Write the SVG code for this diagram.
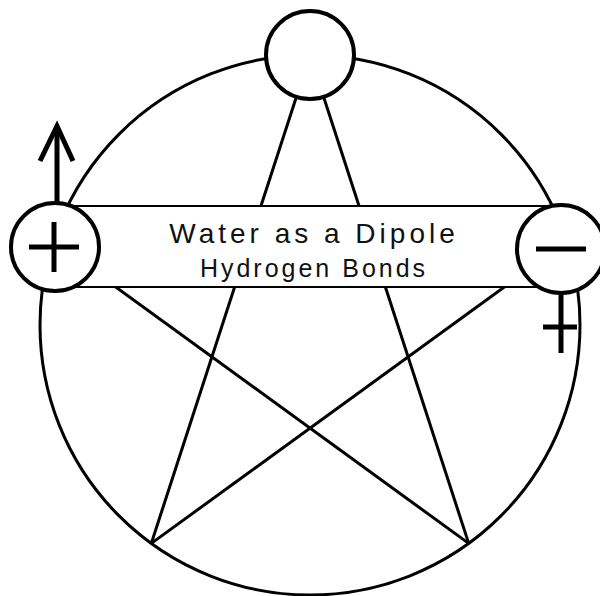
<svg xmlns="http://www.w3.org/2000/svg" width="600" height="596" viewBox="0 0 600 596">
<style>
.ln{stroke:#000;stroke-width:3;fill:none}
.node{stroke:#000;stroke-width:4;fill:#fff}
.sign{stroke:#000;stroke-width:5;fill:none}
.t{font-family:"Liberation Sans",Arial,sans-serif;fill:#111;text-anchor:middle}
</style>
<rect width="600" height="596" fill="#fff"/>
<g id="ring"><circle cx="310" cy="325" r="270" class="ln"/></g>
<g id="connectors">
<line x1="310" y1="55" x2="151.3" y2="543.4" class="ln"/>
<line x1="310" y1="55" x2="468.7" y2="543.4" class="ln"/>
<line x1="53.2" y1="241.6" x2="468.7" y2="543.4" class="ln"/>
<line x1="566.8" y1="241.6" x2="151.3" y2="543.4" class="ln"/>
<line x1="53.2" y1="241.6" x2="566.8" y2="241.6" class="ln"/>
</g>
<g id="label">
<rect x="55" y="206" width="506" height="81" fill="#fff" stroke="#000" stroke-width="2"/>
<text x="314" y="243" class="t" font-size="28" letter-spacing="4">Water as a Dipole</text>
<text x="314" y="277" class="t" font-size="25" letter-spacing="3">Hydrogen Bonds</text>
</g>
<g id="top"><circle cx="310" cy="55" r="44" class="node"/></g>
<g id="left">
<line x1="57" y1="203" x2="57" y2="127" class="sign" stroke-width="4.5"/>
<polyline points="40,161 57,126 73,161" class="sign" stroke-width="4.5"/>
<circle cx="55" cy="247" r="44" class="node"/>
<line x1="29" y1="247" x2="79" y2="247" class="sign" stroke-width="4.5"/>
<line x1="54" y1="222" x2="54" y2="272" class="sign" stroke-width="4.5"/>
</g>
<g id="right">
<line x1="561" y1="290" x2="561" y2="353" class="sign"/>
<line x1="543" y1="327" x2="577" y2="327" class="sign"/>
<circle cx="561" cy="249" r="44" class="node"/>
<line x1="536" y1="249" x2="586" y2="249" class="sign" stroke-width="5.5"/>
</g>
</svg>
